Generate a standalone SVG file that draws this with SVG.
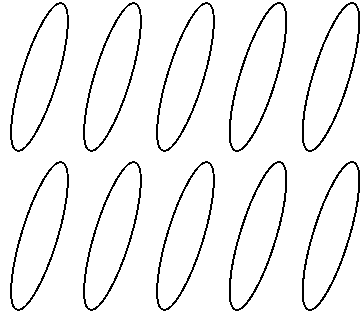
<svg xmlns="http://www.w3.org/2000/svg" width="362" height="320" viewBox="0 0 362 320">
<style>
.e{fill:none;stroke:#000;stroke-width:2;shape-rendering:crispEdges}
</style>
<defs><ellipse id="el" class="e" cx="0" cy="0" rx="18" ry="77" transform="rotate(17)"/></defs>
<rect width="362" height="320" fill="#fff"/>
<g id="r1">
<g id="e1" transform="translate(39.5,77)"><use href="#el"/></g>
<g id="e2" transform="translate(112.5,77)"><use href="#el"/></g>
<g id="e3" transform="translate(185.5,77)"><use href="#el"/></g>
<g id="e4" transform="translate(258,77)"><use href="#el"/></g>
<g id="e5" transform="translate(331,77)"><use href="#el"/></g>
</g>
<g id="r2">
<g id="e6" transform="translate(39.5,236)"><use href="#el"/></g>
<g id="e7" transform="translate(112.5,236)"><use href="#el"/></g>
<g id="e8" transform="translate(185.5,236)"><use href="#el"/></g>
<g id="e9" transform="translate(258,236)"><use href="#el"/></g>
<g id="e10" transform="translate(331,236)"><use href="#el"/></g>
</g>
</svg>
